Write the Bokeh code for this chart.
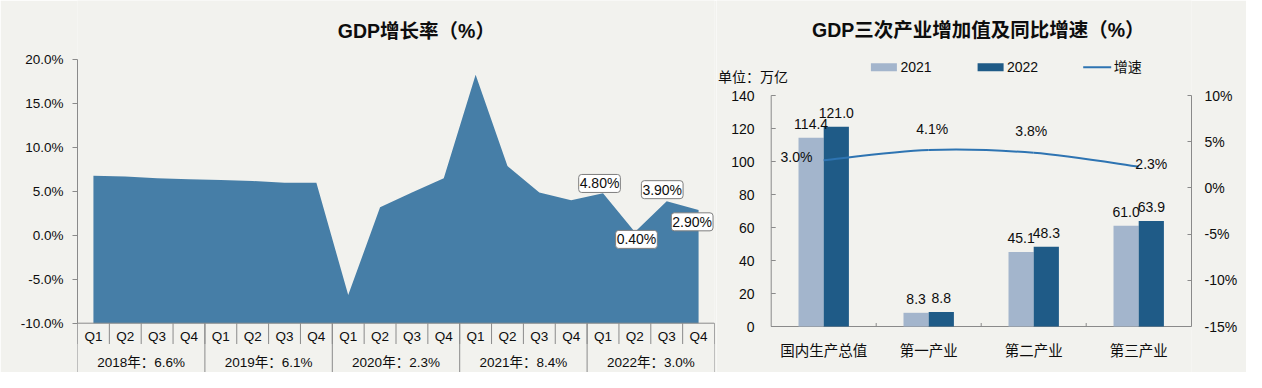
from bokeh.plotting import figure
from bokeh.layouts import row
from bokeh.models import (Range1d, LinearAxis, FixedTicker, PrintfTickFormatter,
                          ColumnDataSource)
from bokeh.core.properties import value
from bokeh.embed import file_html
from bokeh.resources import INLINE

# ---------------- data ----------------
years = ["2018年：6.6%", "2019年：6.1%", "2020年：2.3%", "2021年：8.4%", "2022年：3.0%"]
quarters = ["Q1", "Q2", "Q3", "Q4"]
gdp_growth = [6.8, 6.7, 6.5, 6.4,
              6.3, 6.2, 6.0, 6.0,
              -6.8, 3.2, 4.9, 6.5,
              18.3, 7.9, 4.9, 4.0,
              4.8, 0.4, 3.9, 2.9]
n_labeled = 4

industries = ["国内生产总值", "第一产业", "第二产业", "第三产业"]
value_2021 = [114.4, 8.3, 45.1, 61.0]
value_2022 = [121.0, 8.8, 48.3, 63.9]
yoy_growth = [3.0, 4.1, 3.8, 2.3]
series_names = ["2021", "2022"]
growth_name = "增速"

left_title = "GDP增长率（%）"
right_title = "GDP三次产业增加值及同比增速（%）"
unit_text = "单位：万亿"

left_ticks = [-10, -5, 0, 5, 10, 15, 20]
bar_ticks = [0, 20, 40, 60, 80, 100, 120, 140]
pct_ticks = [-15, -10, -5, 0, 5, 10]

# ---------------- style ----------------
FONT = "Liberation Sans, Noto Sans CJK SC"
BG = "#F2F2EE"
AXIS = "#8A8A8A"
TXT = "#0D0D0D"
AREA = "#467EA7"
C2021 = "#A3B5CC"
C2022 = "#1F5B87"
CLINE = "#2E74B2"
TITLE_SIZE = "19.5px"
H = 372

# ================= left chart =================
n = len(gdp_growth)
idx = list(range(n))
nq = len(quarters)

# pixel geometry (style constants)
L_X_LEFT, L_X_RIGHT = 77.0, 714.3          # x = -0.5 .. n-0.5
L_Y_TOP_TICK, L_Y_BOT_TICK = 59.3, 322.7   # 20% .. -10%
L_PPY = (L_Y_BOT_TICK - L_Y_TOP_TICK) / (left_ticks[-1] - left_ticks[0])
L_PPX = (L_X_RIGHT - L_X_LEFT) / n


def lx(px):
    return -0.5 + (px - L_X_LEFT) / L_PPX


def lyv(py):
    return left_ticks[0] + (L_Y_BOT_TICK - py) / L_PPY


p1 = figure(width=716, height=H,
            x_range=Range1d(-0.5, n - 0.5),
            y_range=Range1d(lyv(H), lyv(0)),
            x_axis_type=None, y_axis_type=None,
            output_backend="svg", toolbar_location=None,
            min_border_left=77, min_border_right=2,
            min_border_top=0, min_border_bottom=0,
            background_fill_color=BG, border_fill_color=BG,
            outline_line_color=None)

ly = LinearAxis(ticker=FixedTicker(ticks=left_ticks, minor_ticks=[]),
                formatter=PrintfTickFormatter(format="%.1f%%"),
                bounds=(left_ticks[0], left_ticks[-1]),
                axis_line_color=AXIS, major_tick_line_color=AXIS,
                major_tick_out=5, major_tick_in=0, minor_tick_line_color=None,
                major_label_standoff=9, major_label_text_font=FONT,
                major_label_text_font_size="13.5px", major_label_text_color=TXT)
p1.add_layout(ly, "left")

p1.varea(x=idx, y1=left_ticks[0], y2=gdp_growth, fill_color=AREA)

# category axis line, quarter / year rows with separators
y_base = left_ticks[0]
p1.segment(x0=[-0.5], y0=[y_base], x1=[n - 0.5], y1=[y_base], line_color=AXIS, line_width=1)
q_bounds = [i - 0.5 for i in range(n + 1)]
p1.segment(x0=q_bounds, y0=[y_base] * len(q_bounds), x1=q_bounds,
           y1=[lyv(343.5)] * len(q_bounds), line_color=AXIS, line_width=1)
ny = len(years)
year_bounds = [k * nq - 0.5 for k in range(ny + 1)]
p1.segment(x0=year_bounds, y0=[y_base] * len(year_bounds), x1=year_bounds,
           y1=[lyv(373.5)] * len(year_bounds), line_color=AXIS, line_width=1)
p1.text(x=idx, y=[lyv(335.5)] * n, text=[quarters[i % nq] for i in idx],
        text_align="center", text_baseline="middle", text_font=value(FONT),
        text_font_size="13.5px", text_color=TXT)
year_centers = [sum(range(k * nq, (k + 1) * nq)) / nq for k in range(ny)]
p1.text(x=year_centers, y=[lyv(362)] * ny, text=years,
        text_align="center", text_baseline="middle", text_font=value(FONT),
        text_font_size="13.5px", text_color=TXT)

LABEL_DX = [-3.5, 1.6, -4.5, -6.4]
LABEL_DY = [-9.8, 7.5, -11.5, 11.9]
lab_src = ColumnDataSource(dict(
    x=idx[-n_labeled:], y=gdp_growth[-n_labeled:],
    text=[f"{v:.2f}%" for v in gdp_growth[-n_labeled:]],
    dx=LABEL_DX, dy=LABEL_DY))
p1.text(x="x", y="y", text="text", x_offset="dx", y_offset="dy", source=lab_src,
        text_align="center", text_baseline="middle", text_font=value(FONT),
        text_font_size="14px", text_color=TXT,
        background_fill_color="white", border_line_color="#7F7F7F",
        border_radius=3, padding=1)

p1.text(x=[lx(416)], y=[lyv(30)], text=[left_title],
        text_align="center", text_baseline="middle", text_font=value(FONT),
        text_font_size=TITLE_SIZE, text_font_style="bold", text_color=TXT)

# ================= right chart =================
m = len(industries)
R_FIG_LEFT = 716.0
R_FRAME_RIGHT = 1191.0
R_X0, R_X1 = 770.7, 1190.7          # x = 0 .. m
R_Y0, R_YTOP_TICK = 326.0, 95.0     # value 0 .. 140
pct_span = pct_ticks[-1] - pct_ticks[0]


def rx(px):
    return (px - R_X0) / (R_X1 - R_X0) * m


def ry(py):
    return (R_Y0 - py) / (R_Y0 - R_YTOP_TICK) * (bar_ticks[-1] - bar_ticks[0]) + bar_ticks[0]


def rp(py):
    return (R_Y0 - py) / (R_Y0 - R_YTOP_TICK) * pct_span + pct_ticks[0]


W2 = 530
p2 = figure(width=W2, height=H,
            x_range=Range1d(rx(R_FIG_LEFT), rx(R_FRAME_RIGHT)),
            y_range=Range1d(ry(H), ry(0)),
            x_axis_type=None, y_axis_type=None,
            output_backend="svg", toolbar_location=None,
            min_border_left=0, min_border_right=int(R_FIG_LEFT + W2 - R_FRAME_RIGHT),
            min_border_top=0, min_border_bottom=0,
            background_fill_color=BG, border_fill_color=BG,
            outline_line_color=None)
p2.extra_y_ranges = {"pct": Range1d(rp(H), rp(0))}

# left value axis (drawn inside the frame so the unit note can sit beside it)
tick_len = rx(R_X0 + 4.5)
p2.segment(x0=[0], y0=[bar_ticks[0]], x1=[0], y1=[bar_ticks[-1]], line_color=AXIS, line_width=1)
p2.segment(x0=[0] * len(bar_ticks), y0=bar_ticks, x1=[tick_len] * len(bar_ticks), y1=bar_ticks,
           line_color=AXIS, line_width=1)
p2.text(x=[0] * len(bar_ticks), y=bar_ticks, text=[str(t) for t in bar_ticks],
        x_offset=-16.7, text_align="right", text_baseline="middle",
        text_font=value(FONT), text_font_size="14px", text_color=TXT)

yr = LinearAxis(y_range_name="pct",
                ticker=FixedTicker(ticks=pct_ticks, minor_ticks=[]),
                formatter=PrintfTickFormatter(format="%d%%"),
                bounds=(pct_ticks[0], pct_ticks[-1]),
                axis_line_color=AXIS, major_tick_line_color=AXIS,
                major_tick_in=4, major_tick_out=0, minor_tick_line_color=None,
                major_label_standoff=13, major_label_text_font=FONT,
                major_label_text_font_size="14px", major_label_text_color=TXT)
p2.add_layout(yr, "right")

# category axis (line, boundary ticks, labels)
centers = [i + 0.5 for i in range(m)]
inner = list(range(1, m))
p2.segment(x0=[0], y0=[bar_ticks[0]], x1=[m], y1=[bar_ticks[0]], line_color=AXIS, line_width=1)
p2.segment(x0=inner, y0=[bar_ticks[0]] * len(inner), x1=inner, y1=[ry(R_Y0 - 3.5)] * len(inner),
           line_color=AXIS, line_width=1)
p2.text(x=centers, y=[ry(350)] * m, text=industries,
        text_align="center", text_baseline="middle", text_font=value(FONT),
        text_font_size="14.5px", text_color=TXT)

BAR_W = 0.24
x21 = [c - BAR_W / 2 for c in centers]
x22 = [c + BAR_W / 2 for c in centers]
p2.vbar(x=x21, top=value_2021, width=BAR_W, bottom=0, fill_color=C2021, line_color=None)
p2.vbar(x=x22, top=value_2022, width=BAR_W, bottom=0, fill_color=C2022, line_color=None)

for xs, vals in ((x21, value_2021), (x22, value_2022)):
    p2.text(x=xs, y=vals, text=[f"{v:.1f}" for v in vals], y_offset=-14,
            text_align="center", text_baseline="middle", text_font=value(FONT),
            text_font_size="14px", text_color=TXT)

# smoothed growth line (cardinal spline through the data points)
pts = list(zip(centers, yoy_growth))
bz = dict(x0=[], y0=[], x1=[], y1=[], cx0=[], cy0=[], cx1=[], cy1=[])
for i in range(m - 1):
    p_prev = pts[max(i - 1, 0)]
    p_a, p_b = pts[i], pts[i + 1]
    p_next = pts[min(i + 2, m - 1)]
    bz["x0"].append(p_a[0]); bz["y0"].append(p_a[1])
    bz["x1"].append(p_b[0]); bz["y1"].append(p_b[1])
    bz["cx0"].append(p_a[0] + (p_b[0] - p_prev[0]) / 6)
    bz["cy0"].append(p_a[1] + (p_b[1] - p_prev[1]) / 6)
    bz["cx1"].append(p_b[0] - (p_next[0] - p_a[0]) / 6)
    bz["cy1"].append(p_b[1] - (p_next[1] - p_a[1]) / 6)
p2.bezier(source=ColumnDataSource(bz), x0="x0", y0="y0", x1="x1", y1="y1",
          cx0="cx0", cy0="cy0", cx1="cx1", cy1="cy1",
          line_color=CLINE, line_width=2, y_range_name="pct")

GL_DX = [-27.2, 3.5, -2.4, 12.6]
GL_DY = [-3.0, -21.2, -21.6, -2.2]
p2.text(x=centers, y=yoy_growth, text=[f"{v:.1f}%" for v in yoy_growth],
        x_offset=GL_DX, y_offset=GL_DY, y_range_name="pct",
        text_align="center", text_baseline="middle", text_font=value(FONT),
        text_font_size="14px", text_color=TXT)

# legend (glyphs above the bar area)
LEG_Y = ry(66.7)
p2.rect(x=[rx(883.4), rx(990.1)], y=[LEG_Y, LEG_Y], width=26, height=8,
        width_units="screen", height_units="screen",
        fill_color=[C2021, C2022], line_color=None)
p2.segment(x0=[rx(1082.7)], y0=[LEG_Y], x1=[rx(1110.7)], y1=[LEG_Y],
           line_color=CLINE, line_width=2)
p2.text(x=[rx(900.0), rx(1006.5), rx(1113.3)], y=[LEG_Y] * 3,
        text=series_names + [growth_name],
        text_align="left", text_baseline="middle", text_font=value(FONT),
        text_font_size="14px", text_color=TXT)

# unit note and title
p2.text(x=[rx(717.5)], y=[ry(76.5)], text=[unit_text],
        text_align="left", text_baseline="middle", text_font=value(FONT),
        text_font_size="14px", text_color=TXT)
p2.text(x=[rx(977.8)], y=[ry(29)], text=[right_title],
        text_align="center", text_baseline="middle", text_font=value(FONT),
        text_font_size=TITLE_SIZE, text_font_style="bold", text_color=TXT)

layout = row(p1, p2, spacing=0)

open("out.html", "w").write(file_html(layout, INLINE))
